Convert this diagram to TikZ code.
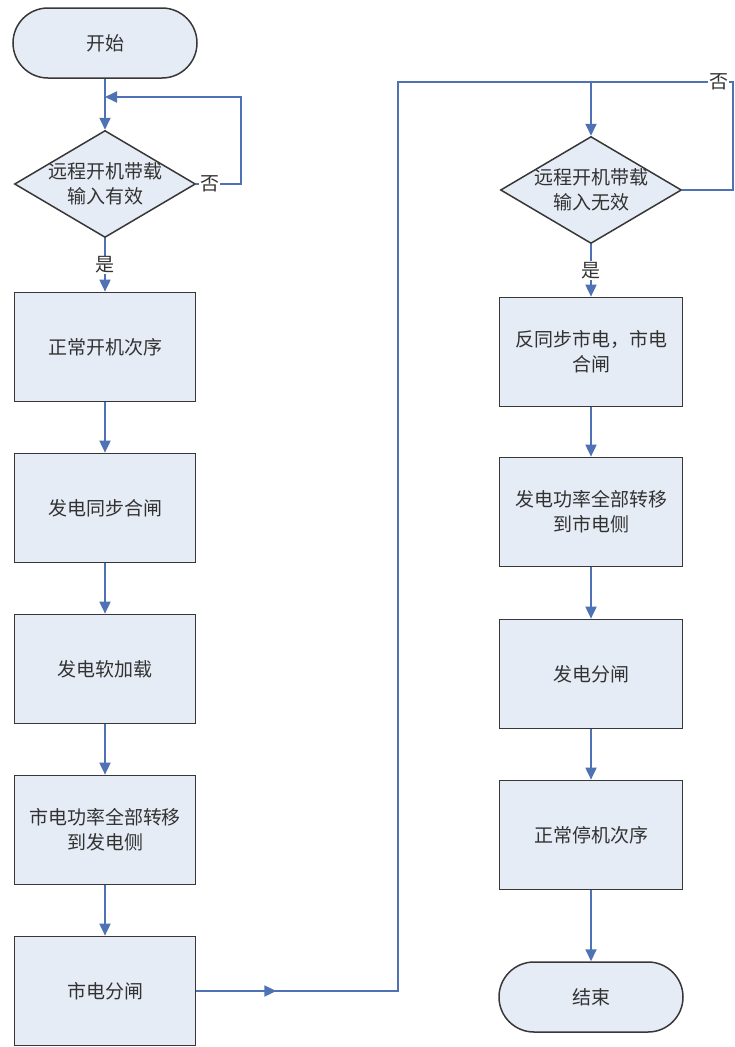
\documentclass[tikz,border=0pt]{standalone}
\usepackage{fontspec}
\setmainfont{Noto Sans CJK SC}
\usepackage{xcolor}
\usetikzlibrary{arrows.meta,shapes.geometric}
\definecolor{boxfill}{RGB}{230,236,246}
\definecolor{boxline}{RGB}{55,55,55}
\definecolor{flowblue}{RGB}{79,114,180}
\definecolor{txtgray}{RGB}{50,50,50}

\begin{document}
\begin{tikzpicture}[x=1pt,y=-1pt]
\tikzset{every node/.style={text=txtgray,font=\fontsize{19}{25}\selectfont}}
\tikzset{procbox/.style={draw=boxline,fill=boxfill,line width=1.7pt,minimum width=181pt,minimum height=109pt,align=center,inner sep=0pt}}
\tikzset{termbox/.style={draw=boxline,fill=boxfill,line width=1.5pt,minimum width=184pt,minimum height=70pt,rounded corners=35pt}}
\tikzset{testbox/.style={diamond,draw=boxline,fill=boxfill,line width=1.5pt,aspect=1.68,minimum width=181pt,minimum height=107pt,inner sep=-12pt,align=center}}
\tikzset{conn/.style={draw=flowblue,line width=1.8pt,-{Triangle[width=11pt,length=12pt]}}}
\tikzset{lbl/.style={fill=white,inner sep=1pt}}

\useasboundingbox (0,0) rectangle (735,1047);

\node[termbox] (start) at (105,43) {开始};
\node[testbox] (d1) at (105,184) {远程开机带载\\输入有效};
\node[procbox] (b1) at (105,347) {正常开机次序};
\node[procbox] (b2) at (105,508) {发电同步合闸};
\node[procbox] (b3) at (105,669) {发电软加载};
\node[procbox] (b4) at (105,830) {市电功率全部转移\\到发电侧};
\node[procbox] (b5) at (105,991) {市电分闸};

\node[testbox] (d2) at (591,190) {远程开机带载\\输入无效};
\node[procbox,minimum width=183pt] (r1) at (591,352) {反同步市电，市电\\合闸};
\node[procbox,minimum width=183pt] (r2) at (591,512) {发电功率全部转移\\到市电侧};
\node[procbox,minimum width=183pt] (r3) at (591,674) {发电分闸};
\node[procbox,minimum width=183pt] (r4) at (591,835) {正常停机次序};
\node[termbox] (finish) at (591,997) {结束};

\coordinate (j1) at (105,97);
\coordinate (topL) at (398,82);
\coordinate (topR) at (733,82);

\draw[conn] (start) -- (d1);
\draw[conn] (d1.east) -- node[lbl,pos=0.3]{否} ++(45,0) |- (j1);
\draw[conn] (d1) -- node[lbl]{是} (b1);
\draw[conn] (b1) -- (b2);
\draw[conn] (b2) -- (b3);
\draw[conn] (b3) -- (b4);
\draw[conn] (b4) -- (b5);
\draw[conn] (b5.east) -- ++(80,0);
\draw[conn] (b5.east) -| (topL) -| (d2.north);
\draw[conn,-] (d2.east) -| (topR) -- node[lbl,pos=0.1]{否} (d2.north |- topR);
\draw[conn] (d2) -- node[lbl]{是} (r1);
\draw[conn] (r1) -- (r2);
\draw[conn] (r2) -- (r3);
\draw[conn] (r3) -- (r4);
\draw[conn] (r4) -- (finish);

\end{tikzpicture}
\end{document}
